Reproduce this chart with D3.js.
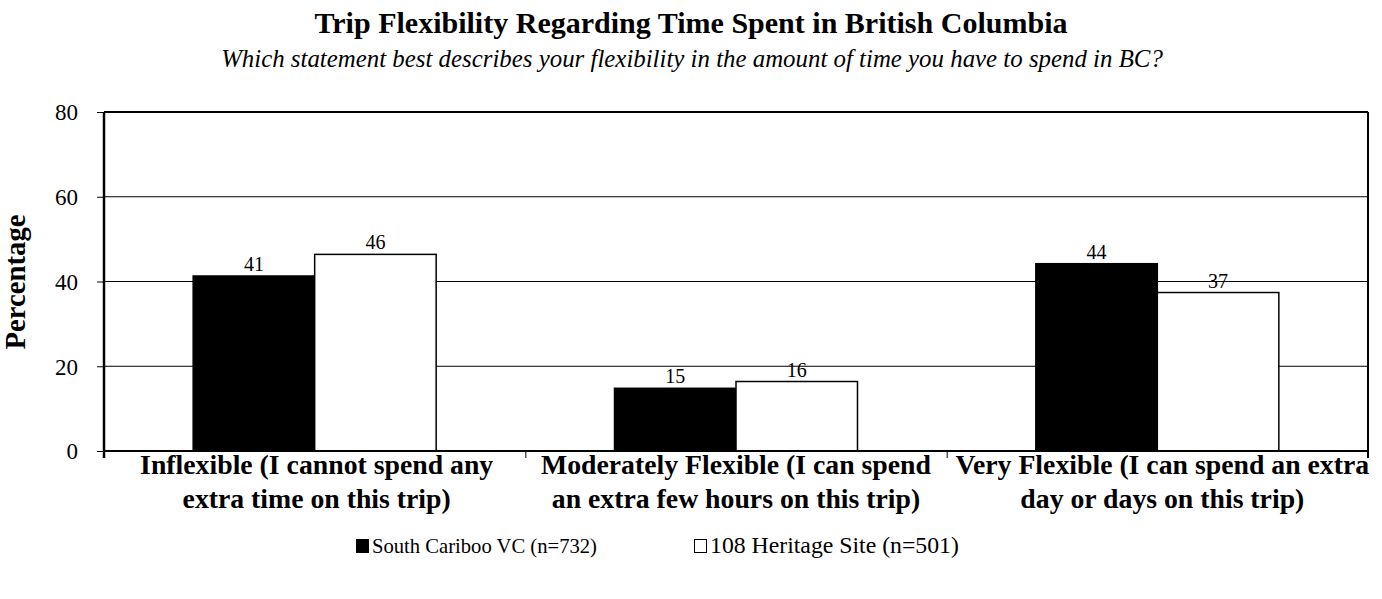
<!DOCTYPE html>
<html><head><meta charset="utf-8">
<script src="https://cdn.jsdelivr.net/npm/d3@7"></script>
<style>body{margin:0;background:#fff}svg{display:block}text{font-family:"Liberation Serif","Times New Roman",serif;fill:#000}</style>
</head><body><svg id="c" width="1382" height="599"></svg>
<script>
const categories = [
  ["Inflexible (I cannot spend any", "extra time on this trip)"],
  ["Moderately Flexible (I can spend", "an extra few hours on this trip)"],
  ["Very Flexible (I can spend an extra", "day or days on this trip)"]
];
const seriesNames = ["South Cariboo VC (n=732)", "108 Heritage Site (n=501)"];
const southCariboo = [41.3, 14.8, 44.2];
const heritageSite = [46.4, 16.4, 37.4];
const yTicks = [0, 20, 40, 60, 80];
const title = "Trip Flexibility Regarding Time Spent in British Columbia";
const subtitle = "Which statement best describes your flexibility in the amount of time you have to spend in BC?";

const svg = d3.select("#c");
const L = 104, R = 1368, T = 112, B = 451;
const fills = ["#000", "#fff"];
const seriesVals = [southCariboo, heritageSite];
const catIdx = categories.map((c, i) => i);

const y = d3.scaleLinear().domain([0, 80]).range([B, T]);
const x0 = d3.scaleBand().domain(catIdx).range([L, R]).padding(0);
const x1 = d3.scaleBand().domain([0, 1]).range([0, x0.bandwidth()]).paddingInner(0).paddingOuter(0.734);

function fitSize(sel, target) {
  const w = sel.node().getComputedTextLength();
  const fs = parseFloat(sel.attr("font-size"));
  return fs * target / w;
}

// gridlines
svg.append("g").selectAll("line").data(yTicks.filter(t => t > 0 && t < 80)).join("line")
  .attr("x1", L).attr("x2", R).attr("y1", d => y(d)).attr("y2", d => y(d))
  .attr("stroke", "#000").attr("stroke-width", 1);

// bars
const g = svg.append("g");
catIdx.forEach(ci => {
  seriesVals.forEach((vals, si) => {
    g.append("rect")
      .attr("x", x0(ci) + x1(si))
      .attr("y", y(vals[ci]))
      .attr("width", x1.bandwidth())
      .attr("height", B - y(vals[ci]))
      .attr("fill", fills[si])
      .attr("stroke", "#000").attr("stroke-width", 1.5);
    g.append("text")
      .attr("x", x0(ci) + x1(si) + x1.bandwidth() / 2)
      .attr("y", y(vals[ci]) - 5)
      .attr("text-anchor", "middle")
      .attr("font-size", 20)
      .text(Math.round(vals[ci]));
  });
});

// plot frame top/right
svg.append("line").attr("x1", L).attr("x2", R).attr("y1", T).attr("y2", T).attr("stroke", "#000").attr("stroke-width", 2);
svg.append("line").attr("x1", R).attr("x2", R).attr("y1", T).attr("y2", B + 7).attr("stroke", "#000").attr("stroke-width", 2);

// y axis
const yAxis = svg.append("g").attr("transform", `translate(${L},0)`)
  .call(d3.axisLeft(y).tickValues(yTicks).tickSize(7).tickPadding(19).tickFormat(d3.format("d")));
yAxis.select(".domain").attr("stroke-width", 2.5).attr("d", `M-0,${B + 7}V${T}`);
yAxis.selectAll(".tick line").attr("stroke-width", 1);
yAxis.selectAll("text").attr("font-size", 23).attr("font-family", "Liberation Serif").attr("dy", "0.34em");

// x axis
const xAxis = svg.append("g").attr("transform", `translate(0,${B})`)
  .call(d3.axisBottom(d3.scaleLinear().domain([0, 3]).range([L, R])).tickValues([0, 1, 2, 3]).tickSize(7).tickFormat(""));
xAxis.select(".domain").attr("stroke-width", 2).attr("d", `M${L},0H${R}`);

// category labels
const probe = svg.append("text").attr("font-weight", "bold").attr("font-size", 20).text(categories[1][0]);
const catSize = fitSize(probe, 390);
probe.remove();
catIdx.forEach(ci => {
  categories[ci].forEach((line, li) => {
    svg.append("text")
      .attr("x", x0(ci) + x0.bandwidth() / 2 + (ci === 2 ? 5 : ci === 0 ? 2 : 0))
      .attr("y", 474 + li * 34)
      .attr("text-anchor", "middle")
      .attr("font-weight", "bold")
      .attr("font-size", catSize.toFixed(2))
      .text(line);
  });
});

// y title
const yt = svg.append("text").attr("transform", "translate(25,282) rotate(-90)")
  .attr("text-anchor", "middle").attr("font-weight", "bold").attr("font-size", 20).text("Percentage");
yt.attr("font-size", fitSize(yt, 135).toFixed(2));

// titles
const tt = svg.append("text").attr("x", 691).attr("y", 33).attr("text-anchor", "middle")
  .attr("font-weight", "bold").attr("font-size", 20).text(title);
tt.attr("font-size", fitSize(tt, 753).toFixed(2));
const st = svg.append("text").attr("x", 692).attr("y", 67).attr("text-anchor", "middle")
  .attr("font-style", "italic").attr("font-size", 17).text(subtitle);
st.attr("font-size", fitSize(st, 942).toFixed(2));

// legend
const legX = [356, 694];
const legW = [225, 249];
seriesNames.forEach((n, i) => {
  svg.append("rect").attr("x", legX[i] + 0.5).attr("y", 539.5).attr("width", 12).attr("height", 13)
    .attr("fill", fills[i]).attr("stroke", "#000").attr("stroke-width", 1);
  const t = svg.append("text").attr("x", legX[i] + 16).attr("y", 553).attr("font-size", 18).text(n);
  t.attr("font-size", fitSize(t, legW[i]).toFixed(2));
});
</script></body></html>
